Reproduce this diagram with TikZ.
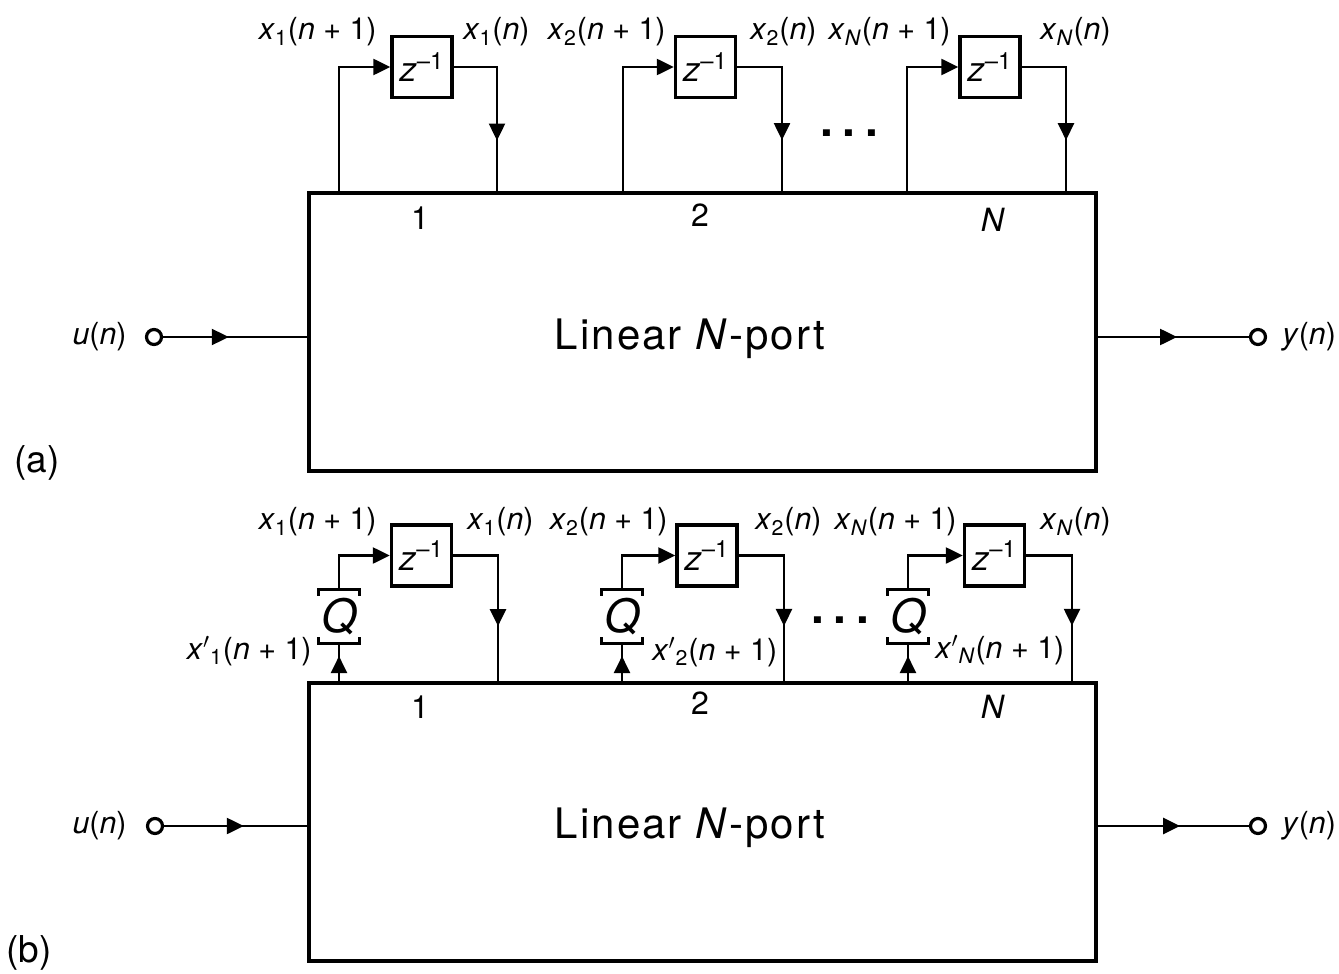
\documentclass[tikz,border=0pt]{standalone}
\usepackage{fontspec}
\setmainfont{TeX Gyre Heros}
\usetikzlibrary{arrows.meta,decorations.markings}

% signal names
\newcommand{\xk}[2]{\textit{x}\textsubscript{#1}(\textit{n}#2)}
\newcommand{\xq}[2]{\textit{x}$'$\textsubscript{#1}(\textit{n}#2)}
\newcommand{\zinv}{\textit{z}\textsuperscript{\textendash1}}
% brackets of a quantizer
\newcommand{\qbrk}[1]{\draw[brk] ([yshift=-3pt]#1.north west)--(#1.north west)--(#1.north east)--([yshift=-3pt]#1.north east)
  ([yshift=3pt]#1.south west)--(#1.south west)--(#1.south east)--([yshift=3pt]#1.south east);}

\begin{document}
\begin{tikzpicture}[x=0.5pt,y=-0.5pt,every node/.style={font=\fontsize{15.2}{17}\selectfont},
  lbl/.style={inner sep=0pt},
  conn/.style={line width=1.2pt},
  tip/.style={-{Triangle[length=8.5pt,width=8pt]}},
  marrow/.style={postaction={decorate},decoration={markings,mark=at position #1 with {\arrow{Triangle[length=8.5pt,width=8pt]}}}},
  delay/.style={draw,line width=1.7pt,minimum width=30pt,minimum height=30.5pt,inner sep=0pt,font=\fontsize{17}{18}\selectfont},
  nport/.style={draw,line width=1.8pt,minimum width=393.5pt,minimum height=139pt},
  ntext/.style={font=\fontsize{21}{24}\selectfont\addfontfeature{LetterSpace=5}},
  portno/.style={font=\fontsize{16}{18}\selectfont},
  qbox/.style={minimum width=20pt,minimum height=26.5pt,inner sep=0pt,font=\fontsize{23}{23}\selectfont\itshape},
  brk/.style={line width=1.6pt},
  term/.style={circle,draw,fill=white,line width=1.6pt,minimum size=7.5pt,inner sep=0pt},
  dots/.style={font=\fontsize{23}{23}\selectfont\bfseries},
  tag/.style={font=\fontsize{18.5}{20}\selectfont}]
\useasboundingbox (0,0) rectangle (1339,974);

% (a)
\node[nport](npa) at (702.5,332){};
\node[ntext](npat) at (690,339){Linear \textit{N}-port};
\node[delay](za1) at (422,67){\zinv};
\node[delay](za2) at (705.5,67){\zinv};
\node[delay](za3) at (990,67){\zinv};
\coordinate (a1i) at (339,193); \coordinate (a1o) at (497,193);
\coordinate (a2i) at (623,193); \coordinate (a2o) at (782,193);
\coordinate (a3i) at (907,193); \coordinate (a3o) at (1066,193);
\draw[conn,tip](a1i) |- (za1.west);
\draw[conn,tip](a2i) |- (za2.west);
\draw[conn,tip](a3i) |- (za3.west);
\draw[conn,marrow=0.69](za1.east) -| (a1o);
\draw[conn,marrow=0.69](za2.east) -| (a2o);
\draw[conn,marrow=0.69](za3.east) -| (a3o);
\node[lbl,anchor=east](la1) at (377,32){\xk{1}{ + 1}};
\node[lbl,anchor=west](lb1) at (463,32){\xk{1}{}};
\node[lbl,anchor=east](la2) at (666,32){\xk{2}{ + 1}};
\node[lbl,anchor=west](lb2) at (750,32){\xk{2}{}};
\node[lbl,anchor=east](la3) at (951,32){\xk{\textit{N}}{ + 1}};
\node[lbl,anchor=west](lb3) at (1040,32){\xk{\textit{N}}{}};
\node[dots](da) at (849,133){.\hspace{4.9pt}.\hspace{4.9pt}.};
\node[portno](pa1) at (420,218){1};
\node[portno](pa2) at (700,215){2};
\node[portno](pa3) at (993,220){\textit{N}};
\node[term](ua) at (154,337){};
\node[lbl,anchor=east](ula) at (127,337){\textit{u}(\textit{n})};
\coordinate (uia) at (309,337);
\draw[conn,marrow=0.45](ua) -- (uia);
\node[term](ya) at (1258,337){};
\node[lbl,anchor=west](yla) at (1282,337){\textit{y}(\textit{n})};
\coordinate (yoa) at (1096,337);
\draw[conn,marrow=0.53](yoa) -- (ya);
\node[tag](ta) at (37,463){(a)};

% (b)
\node[nport](npb) at (702.5,822){};
\node[ntext](npbt) at (690,828){Linear \textit{N}-port};
\node[delay](zb1) at (421.5,555.5){\zinv};
\node[delay](zb2) at (707,555.5){\zinv};
\node[delay](zb3) at (994.5,555.5){\zinv};
\node[qbox](q1) at (339,616.5){Q}; \qbrk{q1}
\node[qbox](q2) at (622,616.5){Q}; \qbrk{q2}
\node[qbox](q3) at (908,616.5){Q}; \qbrk{q3}
\coordinate (b1i) at (339,683); \coordinate (b1o) at (498,683);
\coordinate (b2i) at (622,683); \coordinate (b2o) at (784,683);
\coordinate (b3i) at (908,683); \coordinate (b3o) at (1072,683);
\draw[conn,marrow=0.68](b1i) -- (q1.south);
\draw[conn,marrow=0.68](b2i) -- (q2.south);
\draw[conn,marrow=0.68](b3i) -- (q3.south);
\draw[conn,tip](q1.north) |- (zb1.west);
\draw[conn,tip](q2.north) |- (zb2.west);
\draw[conn,tip](q3.north) |- (zb3.west);
\draw[conn,marrow=0.67](zb1.east) -| (b1o);
\draw[conn,marrow=0.67](zb2.east) -| (b2o);
\draw[conn,marrow=0.67](zb3.east) -| (b3o);
\node[lbl,anchor=east](lc1) at (377,522){\xk{1}{ + 1}};
\node[lbl,anchor=west](ld1) at (467,522){\xk{1}{}};
\node[lbl,anchor=east](lc2) at (668,522){\xk{2}{ + 1}};
\node[lbl,anchor=west](ld2) at (755,522){\xk{2}{}};
\node[lbl,anchor=east](lc3) at (957,522){\xk{\textit{N}}{ + 1}};
\node[lbl,anchor=west](ld3) at (1040,522){\xk{\textit{N}}{}};
\node[lbl,anchor=east](le1) at (312,651){\xq{1}{ + 1}};
\node[lbl,anchor=west](le2) at (652,652){\xq{2}{ + 1}};
\node[lbl,anchor=west](le3) at (935,650){\xq{\textit{N}}{ + 1}};
\node[dots](db) at (840,620){.\hspace{4.9pt}.\hspace{4.9pt}.};
\node[portno](pb1) at (420,707){1};
\node[portno](pb2) at (700,703){2};
\node[portno](pb3) at (993,707){\textit{N}};
\node[term](ub) at (155,826){};
\node[lbl,anchor=east](ulb) at (127,826){\textit{u}(\textit{n})};
\coordinate (uib) at (309,826);
\draw[conn,marrow=0.55](ub) -- (uib);
\node[term](yb) at (1258,826){};
\node[lbl,anchor=west](ylb) at (1282,826){\textit{y}(\textit{n})};
\coordinate (yob) at (1096,826);
\draw[conn,marrow=0.55](yob) -- (yb);
\node[tag](tb) at (29,953){(b)};
\end{tikzpicture}
\end{document}
